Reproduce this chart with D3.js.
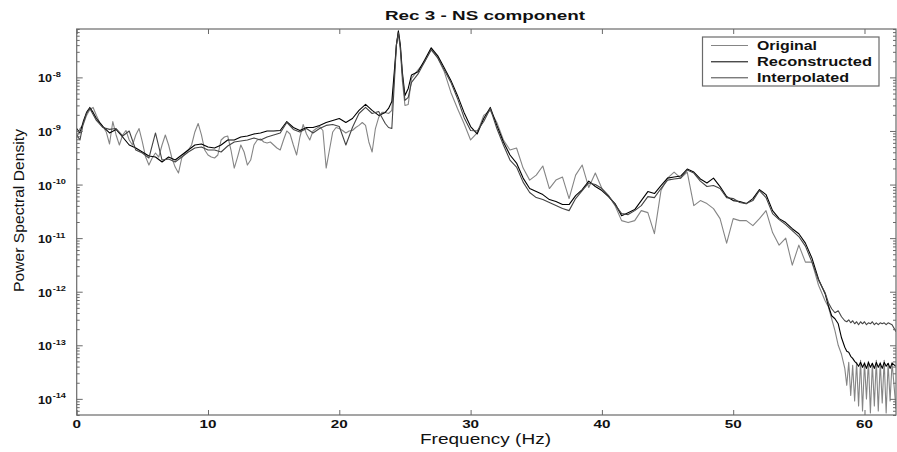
<!DOCTYPE html>
<html><head><meta charset="utf-8">
<script src="https://cdn.jsdelivr.net/npm/d3@7"></script>
<style>body{margin:0;background:#fff;} svg{display:block;}</style>
</head><body>
<svg id="chart" width="897" height="452"></svg>
<script>
// ---------- data ----------
const title = "Rec 3 - NS component";
const xLabel = "Frequency (Hz)";
const yLabel = "Power Spectral Density";
const seriesNames = ["Original", "Reconstructed", "Interpolated"];
const xTicks = [0, 10, 20, 30, 40, 50, 60];
const yDecades = [-14, -13, -12, -11, -10, -9, -8];
const xDomain = [0, 62.4];
const yDomain = [5e-15, 8e-8];

const freqOrig = [0,0.25,0.5,0.75,1,1.25,1.5,1.75,2,2.25,2.5,2.75,3,3.25,3.5,3.75,4,4.25,4.5,4.75,5,5.25,5.5,5.75,6,6.25,6.5,6.75,7,7.25,7.5,7.75,8,8.25,8.5,8.75,9,9.25,9.5,9.75,10,10.25,10.5,10.75,11,11.25,11.5,11.75,12,12.25,12.5,12.75,13,13.25,13.5,13.75,14,14.25,14.5,14.75,15,15.25,15.5,15.75,16,16.25,16.5,16.75,17,17.25,17.5,17.75,18,18.25,18.5,18.75,19,19.25,19.5,19.75,20,20.25,20.5,20.75,21,21.25,21.5,21.75,22,22.25,22.5,22.75,23,23.25,23.5,23.75,24,
24.2,24.35,24.5,24.65,24.8,25,25.25,
25.5,26,26.5,27,27.5,28,28.5,29,29.5,30,30.5,31,31.5,32,32.5,33,33.5,34,34.5,35,35.5,36,36.5,37,37.5,38,38.5,39,39.5,40,40.5,41,41.5,42,42.5,43,43.5,44,44.5,45,45.5,46,46.5,47,47.5,48,48.5,49,49.5,50,50.5,51,51.5,52,52.5,53,53.5,54,54.5,55,55.5,56,56.5,57,
57.25,57.5,57.75,58,58.25,58.5,
58.65,58.8,58.95,59.1,59.25,59.4,59.55,59.7,59.85,60,60.15,60.3,60.45,60.6,60.75,60.9,61.05,61.2,61.35,61.5,61.65,61.8,61.95,62.1,62.4];

const original = [7.4e-10,1.11e-9,1.32e-9,1.95e-9,2.52e-9,2.75e-9,1.95e-9,1.44e-9,1.21e-9,9.58e-10,5.71e-10,1.5e-9,
8.42e-10,5.47e-10,8.42e-10,1.02e-9,6.79e-10,5.47e-10,8.42e-10,1.11e-9,6.23e-10,3.26e-10,2.31e-10,3.13e-10,
3.88e-10,3.26e-10,5.47e-10,8.42e-10,5.47e-10,3.13e-10,2.12e-10,1.64e-10,3.13e-10,3.88e-10,4.41e-10,5.47e-10,
9.58e-10,1.38e-9,8.42e-10,4.41e-10,3.56e-10,3.26e-10,3.13e-10,3.56e-10,6.79e-10,7.72e-10,8.06e-10,4.41e-10,
2.03e-10,3.26e-10,5.47e-10,4.05e-10,2.31e-10,2.87e-10,5.47e-10,6.79e-10,7.09e-10,6.23e-10,5.96e-10,6.23e-10,
5.47e-10,4.81e-10,4.41e-10,6.79e-10,1.0e-9,8.79e-10,5.47e-10,3.56e-10,7.72e-10,1.32e-9,8.79e-10,6.79e-10,
1.0e-9,1.11e-9,1.21e-9,1.02e-9,2.03e-10,4.41e-10,9.58e-10,1.16e-9,1.11e-9,1.02e-9,9.18e-10,1.0e-9,
1.02e-9,1.16e-9,1.27e-9,1.44e-9,1.27e-9,6.23e-10,4.05e-10,1.11e-9,1.79e-9,2.22e-9,2.22e-9,2.12e-9,2.42e-9,
1.11e-8,4.05e-8,7.09e-8,3.26e-8,8.79e-9,2.99e-9,3.13e-9,
9.58e-9,1.38e-8,1.95e-8,3.41e-8,2.31e-8,1.27e-8,5.24e-9,2.63e-9,1.38e-9,6.79e-10,
9.18e-10,1.95e-9,2.42e-9,1.44e-9,6.79e-10,4.41e-10,4.81e-10,2.03e-10,1.21e-10,1.5e-10,
2.22e-10,8.42e-11,1.21e-10,1.38e-10,5.47e-11,1.5e-10,2.31e-10,8.79e-11,1.64e-10,8.42e-11,
6.23e-11,4.05e-11,2.12e-11,1.95e-11,2.12e-11,3.26e-11,2.99e-11,1.21e-11,7.72e-11,1.32e-10,
1.71e-10,1.32e-10,1.71e-10,4.05e-11,5.02e-11,4.41e-11,3.56e-11,2.31e-11,8.06e-12,2.31e-11,
2.12e-11,2.12e-11,1.71e-11,2.31e-11,3.26e-11,1.27e-11,7.4e-12,1.0e-11,3.13e-12,7.4e-12,
3.56e-12,3.56e-12,1.32e-12,6.79e-13,
5.24e-13,3.13e-13,1.87e-13,1.0e-13,6.79e-14,3.71e-14,
1.79e-14,4.81e-14,1.16e-14,4.23e-14,9.18e-15,4.81e-14,7.4e-15,5.24e-14,5.96e-15,4.81e-14,1.0e-14,5.02e-14,5.47e-15,4.61e-14,7.4e-15,5.24e-14,5.96e-15,4.81e-14,8.42e-15,5.24e-14,5.47e-15,4.61e-14,9.18e-15,4.81e-14,6.5e-15];

const freqRI = [0,0.25,0.5,0.75,1,1.25,
1.5,2,2.5,3,3.5,4,4.5,5,5.5,6,6.5,7,7.5,8,8.5,9,9.5,10,10.5,11,11.5,12,12.5,13,13.5,14,14.5,15,15.5,16,16.5,17,17.5,18,18.5,19,19.5,20,20.5,21,21.5,22,22.5,23,23.5,
23.75,24,24.2,24.35,24.5,24.65,24.8,25,25.25,
25.5,26,26.5,27,27.5,28,28.5,29,29.5,30,30.5,31,31.5,32,32.5,33,33.5,34,34.5,35,35.5,36,36.5,37,37.5,38,38.5,39,39.5,40,40.5,41,41.5,42,42.5,43,43.5,44,44.5,45,45.5,46,46.5,47,47.5,48,48.5,49,49.5,50,50.5,51,51.5,52,52.5,53,53.5,54,54.5,55,55.5,56,56.5,57,
57.25,57.5,57.75,58,58.25,58.5,
58.65,58.8,58.95,59.1,59.25,59.4,59.55,59.7,59.85,60,60.15,60.3,60.45,60.6,60.75,60.9,61.05,61.2,61.35,61.5,61.65,61.8,61.95,62.1,62.4];

const reconstructed = [1.11e-9,9.18e-10,1.5e-9,2.22e-9,2.75e-9,2.22e-9,
1.71e-9,1.21e-9,9.18e-10,1.07e-9,7.72e-10,5.47e-10,4.81e-10,4.05e-10,3.41e-10,3.26e-10,
2.63e-10,3.26e-10,2.87e-10,3.56e-10,4.41e-10,5.47e-10,5.71e-10,5.02e-10,4.81e-10,5.47e-10,
6.79e-10,6.79e-10,7.72e-10,8.06e-10,8.79e-10,9.18e-10,1.0e-9,1.0e-9,1.02e-9,1.5e-9,
1.16e-9,1.02e-9,1.16e-9,1.16e-9,1.27e-9,1.44e-9,1.57e-9,1.71e-9,1.44e-9,1.71e-9,
2.42e-9,3.13e-9,2.42e-9,1.95e-9,2.22e-9,
2.63e-9,3.56e-9,1.38e-8,4.05e-8,7.4e-8,4.05e-8,1.27e-8,4.61e-9,6.23e-9,
1.11e-8,1.27e-8,2.12e-8,3.56e-8,2.52e-8,1.5e-8,8.79e-9,4.61e-9,2.22e-9,1.21e-9,
8.79e-10,1.71e-9,2.75e-9,1.27e-9,6.23e-10,3.56e-10,2.52e-10,1.32e-10,8.42e-11,7.4e-11,
6.5e-11,5.24e-11,4.81e-11,4.23e-11,4.23e-11,6.23e-11,8.06e-11,1.16e-10,9.18e-11,7.72e-11,
5.96e-11,4.41e-11,2.63e-11,2.99e-11,3.41e-11,5.02e-11,7.4e-11,6.79e-11,9.58e-11,1.32e-10,
1.38e-10,1.44e-10,1.95e-10,1.71e-10,1.27e-10,1.07e-10,1.32e-10,9.18e-11,5.96e-11,5.02e-11,
4.81e-11,4.41e-11,5.47e-11,8.06e-11,6.5e-11,3.26e-11,2.31e-11,1.95e-11,1.5e-11,1.21e-11,
8.06e-12,4.23e-12,1.71e-12,9.18e-13,
5.47e-13,3.56e-13,3.13e-13,2.52e-13,1.38e-13,9.18e-14,
7.72e-14,7.4e-14,6.23e-14,5.71e-14,5.02e-14,4.61e-14,4.05e-14,4.81e-14,3.88e-14,4.61e-14,3.71e-14,4.81e-14,3.88e-14,4.61e-14,3.71e-14,4.81e-14,3.88e-14,4.61e-14,3.71e-14,4.81e-14,4.05e-14,4.61e-14,3.71e-14,4.61e-14,4.05e-14];

const interpolated = [8.42e-10,6.79e-10,1.38e-9,2.12e-9,2.63e-9,2.03e-9,
1.57e-9,1.16e-9,1.07e-9,1.11e-9,8.06e-10,1.0e-9,4.41e-10,3.88e-10,3.13e-10,9.18e-10,
2.87e-10,2.99e-10,2.63e-10,3.26e-10,4.05e-10,4.81e-10,5.02e-10,4.41e-10,4.41e-10,4.05e-10,
5.24e-10,6.23e-10,6.5e-10,6.79e-10,7.4e-10,6.79e-10,7.72e-10,8.42e-10,9.18e-10,1.44e-9,
1.07e-9,9.58e-10,1.11e-9,9.18e-10,1.11e-9,1.27e-9,1.32e-9,1.21e-9,5.47e-10,1.16e-9,
2.12e-9,2.75e-9,2.12e-9,2.31e-9,1.38e-9,
1.16e-9,1.11e-9,8.79e-9,4.05e-8,6.79e-8,3.56e-8,1.11e-8,3.71e-9,4.23e-9,
8.06e-9,1.16e-8,1.95e-8,3.26e-8,2.31e-8,1.38e-8,8.06e-9,4.05e-9,1.79e-9,1.02e-9,
1.0e-9,1.5e-9,2.63e-9,1.11e-9,5.47e-10,2.87e-10,2.12e-10,1.11e-10,7.09e-11,5.71e-11,
5.24e-11,4.61e-11,4.05e-11,3.56e-11,3.26e-11,5.47e-11,7.72e-11,1.07e-10,1.0e-10,8.42e-11,
6.23e-11,4.23e-11,2.87e-11,2.75e-11,3.26e-11,4.05e-11,5.96e-11,5.71e-11,8.42e-11,1.21e-10,
1.27e-10,1.32e-10,1.87e-10,1.64e-10,1.16e-10,9.18e-11,9.58e-11,8.42e-11,5.71e-11,5.47e-11,
4.61e-11,4.41e-11,5.02e-11,7.72e-11,5.71e-11,2.87e-11,2.22e-11,1.79e-11,1.38e-11,1.07e-11,
7.09e-12,3.56e-12,1.64e-12,9.58e-13,
6.23e-13,4.81e-13,4.05e-13,4.41e-13,3.41e-13,2.87e-13,
2.75e-13,2.99e-13,2.63e-13,2.87e-13,2.52e-13,2.75e-13,2.42e-13,2.75e-13,2.52e-13,2.75e-13,2.42e-13,2.63e-13,2.52e-13,2.75e-13,2.42e-13,2.63e-13,2.42e-13,2.63e-13,2.52e-13,2.63e-13,2.42e-13,2.63e-13,2.52e-13,2.42e-13,1.79e-13];

const seriesColors = ["#858585", "#000000", "#454545"];

// ---------- layout ----------
const svg = d3.select("#chart");
const W = 897, H = 452;
const L = 76.7, R = 896, T = 29, B = 415;
const axisColor = "#6a6a6a";
const fontFam = "Arial, 'Liberation Sans', Helvetica, sans-serif";

svg.append("rect").attr("width", W).attr("height", H).attr("fill", "#fff");

const x = d3.scaleLinear().domain(xDomain).range([L, R]);
const y = d3.scaleLog().domain(yDomain).range([B, T]);

function pairs(fx, fy) {
  const n = Math.min(fx.length, fy.length);
  if (fx.length !== fy.length) console.warn("length mismatch", fx.length, fy.length);
  return d3.range(n).map(i => [fx[i], fy[i]]);
}
const series = [
  {name: seriesNames[0], data: pairs(freqOrig, original), color: seriesColors[0]},
  {name: seriesNames[1], data: pairs(freqRI, reconstructed), color: seriesColors[1]},
  {name: seriesNames[2], data: pairs(freqRI, interpolated), color: seriesColors[2]}
];

svg.append("clipPath").attr("id", "plotclip")
  .append("rect").attr("x", L).attr("y", T).attr("width", R - L).attr("height", B - T);

const line = d3.line().x(d => x(d[0])).y(d => y(d[1]));
const plot = svg.append("g").attr("clip-path", "url(#plotclip)");
series.forEach(s => {
  plot.append("path").attr("d", line(s.data))
    .attr("fill", "none").attr("stroke", s.color).attr("stroke-width", 1.1)
    .attr("stroke-linejoin", "round");
});

// ---------- axes ----------
function styleAxis(g) {
  g.select(".domain").remove();
  g.selectAll(".tick line").attr("stroke", axisColor).attr("stroke-width", 1);
  g.selectAll(".tick text").remove();
}
svg.append("g").attr("transform", `translate(0,${B})`)
  .call(d3.axisBottom(x).tickValues(xTicks).tickSize(-5).tickFormat("")).call(styleAxis);
svg.append("g").attr("transform", `translate(0,${T})`)
  .call(d3.axisTop(x).tickValues(xTicks).tickSize(-5).tickFormat("")).call(styleAxis);

const majorY = yDecades.map(e => Math.pow(10, e));
const minorY = [];
for (let e = -15; e <= -8; e++) for (let k = 2; k <= 9; k++) {
  const v = k * Math.pow(10, e);
  if (v >= yDomain[0] && v <= yDomain[1]) minorY.push(v);
}
svg.append("g").attr("transform", `translate(${L},0)`)
  .call(d3.axisLeft(y).tickValues(majorY).tickSize(-6).tickFormat("")).call(styleAxis);
svg.append("g").attr("transform", `translate(${L},0)`)
  .call(d3.axisLeft(y).tickValues(minorY).tickSize(-3).tickFormat("")).call(styleAxis);
svg.append("g").attr("transform", `translate(${R},0)`)
  .call(d3.axisRight(y).tickValues(majorY).tickSize(-6).tickFormat("")).call(styleAxis);
svg.append("g").attr("transform", `translate(${R},0)`)
  .call(d3.axisRight(y).tickValues(minorY).tickSize(-3).tickFormat("")).call(styleAxis);

// box
svg.append("rect").attr("x", L).attr("y", T).attr("width", R - L).attr("height", B - T)
  .attr("fill", "none").attr("stroke", axisColor).attr("stroke-width", 1.2);

// x tick labels
svg.append("g").selectAll("text").data(xTicks).join("text")
  .attr("transform", d => `translate(${x(d)},427.5) scale(1.45,1)`)
  .attr("text-anchor", "middle").attr("font-family", fontFam)
  .attr("font-weight", "bold").attr("font-size", 10.5).attr("fill", "#111")
  .text(d => d);

// y tick labels 10^e
const yl = svg.append("g").selectAll("text").data(yDecades).join("text")
  .attr("transform", d => `translate(38,${y(Math.pow(10, d)) + 5}) scale(1.15,1)`)
  .attr("font-family", fontFam).attr("font-weight", "bold").attr("fill", "#111");
yl.append("tspan").attr("font-size", 11).text("10");
yl.append("tspan").attr("font-size", 8).attr("dy", -5.5).attr("dx", 0.5).text(d => "-" + Math.abs(d));

// title and axis labels
svg.append("text").attr("x", 385).attr("y", 20)
  .attr("textLength", 200).attr("lengthAdjust", "spacingAndGlyphs")
  .attr("font-family", fontFam).attr("font-weight", "bold").attr("font-size", 12).attr("fill", "#111")
  .text(title);
svg.append("text").attr("x", 420).attr("y", 443.5)
  .attr("textLength", 131).attr("lengthAdjust", "spacingAndGlyphs")
  .attr("font-family", fontFam).attr("font-size", 14).attr("fill", "#111")
  .text(xLabel);
svg.append("text").attr("transform", "translate(23.5,292) rotate(-90)")
  .attr("textLength", 163).attr("lengthAdjust", "spacingAndGlyphs")
  .attr("font-family", fontFam).attr("font-size", 15).attr("fill", "#111")
  .text(yLabel);

// legend
const leg = svg.append("g");
leg.append("rect").attr("x", 702.5).attr("y", 37).attr("width", 176.5).attr("height", 49)
  .attr("fill", "#fff").attr("stroke", axisColor).attr("stroke-width", 1.2);
const legW = [60, 115, 92];
const legY = [45.5, 61.8, 77.8];
series.forEach((s, i) => {
  leg.append("line").attr("x1", 711).attr("x2", 748).attr("y1", legY[i]).attr("y2", legY[i])
    .attr("stroke", s.color).attr("stroke-width", 1);
  leg.append("text").attr("x", 757).attr("y", legY[i] + 4.3)
    .attr("textLength", legW[i]).attr("lengthAdjust", "spacingAndGlyphs")
    .attr("font-family", fontFam).attr("font-weight", "bold").attr("font-size", 12).attr("fill", "#111")
    .text(s.name);
});
</script>
</body></html>
